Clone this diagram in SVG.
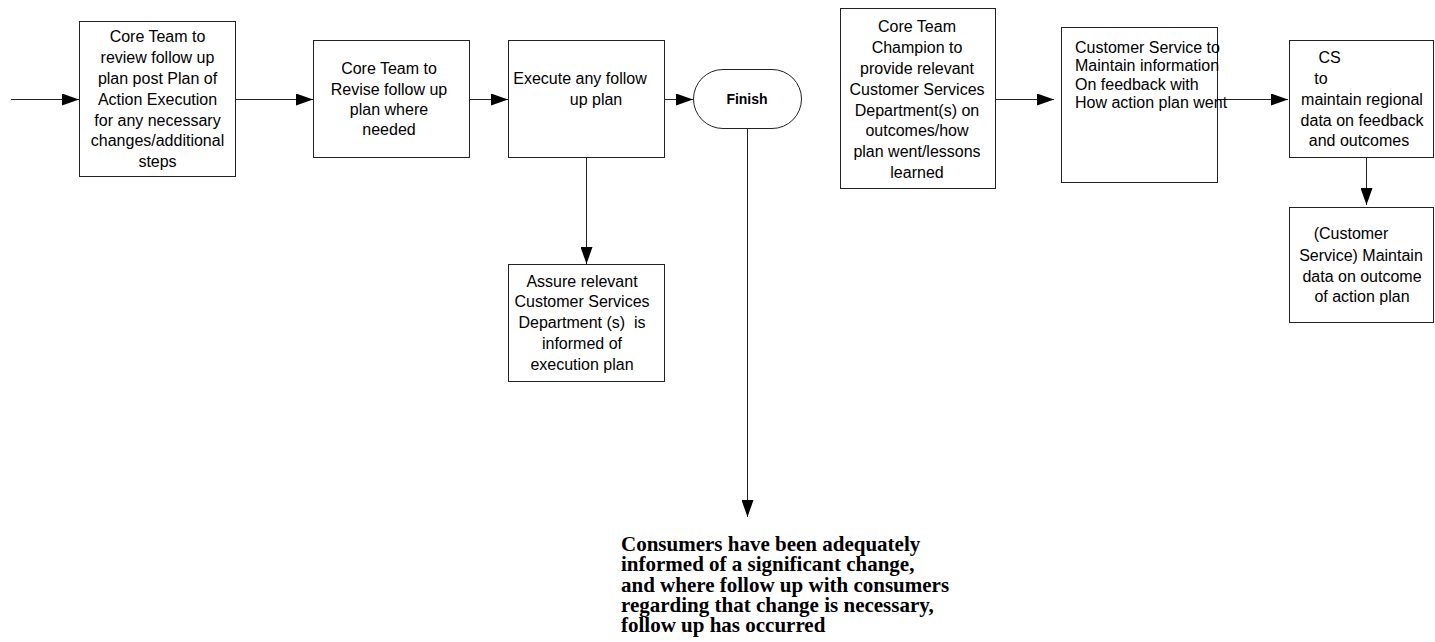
<svg xmlns="http://www.w3.org/2000/svg" width="1435" height="642" viewBox="0 0 1435 642">
<style>
.box{fill:#fff;stroke:#222;stroke-width:1}
.t{font-family:"Liberation Sans",Arial,sans-serif;font-size:16px;fill:#000}
.c{text-anchor:middle}
.b{font-weight:bold;font-size:14px}
.note{font-family:"Liberation Serif","Times New Roman",serif;font-size:21px;font-weight:bold;fill:#000}
.con{fill:none;stroke:#222;stroke-width:1;marker-end:url(#ah)}
</style>
<defs>
<marker id="ah" markerUnits="userSpaceOnUse" markerWidth="17" markerHeight="12" refX="17" refY="6" orient="auto">
<path d="M0,0 L17,6 L0,12 z" fill="#000"/>
</marker>
</defs>
<rect width="1435" height="642" fill="#fff"/>
<g id="connectors">
<path class="con" d="M11,99.5 H79"/>
<path class="con" d="M236,99.5 H313"/>
<path class="con" d="M470,99.5 H508"/>
<path class="con" d="M665,99.5 H693"/>
<path class="con" d="M586.5,157 V264"/>
<path class="con" d="M747.5,128 V517"/>
<path class="con" d="M996,99.5 H1054"/>
<path class="con" d="M1217,99.5 H1288"/>
<path class="con" d="M1366.5,157 V205"/>
</g>
<g id="n1">
<rect class="box" x="79.5" y="21.5" width="156" height="155"/>
<text class="t c" x="157.5" y="42">Core Team to</text>
<text class="t c" x="157.5" y="63">review follow up</text>
<text class="t c" x="157.5" y="84">plan post Plan of</text>
<text class="t c" x="157.5" y="104.5">Action Execution</text>
<text class="t c" x="157.5" y="125.5">for any necessary</text>
<text class="t c" x="157.5" y="146">changes/additional</text>
<text class="t c" x="157.5" y="167">steps</text>
</g>
<g id="n2">
<rect class="box" x="313.5" y="40.5" width="156" height="117"/>
<text class="t c" x="389" y="74">Core Team to</text>
<text class="t c" x="389" y="94.5">Revise follow up</text>
<text class="t c" x="389" y="115">plan where</text>
<text class="t c" x="389" y="135">needed</text>
</g>
<g id="n3">
<rect class="box" x="508.5" y="40.5" width="156" height="117"/>
<text class="t c" x="580" y="84">Execute any follow</text>
<text class="t c" x="596" y="104.5">up plan</text>
</g>
<g id="finish">
<rect class="box" x="693.5" y="69.5" width="108" height="59" rx="29.5" ry="29.5"/>
<text class="t c b" x="747" y="104">Finish</text>
</g>
<g id="n4">
<rect class="box" x="508.5" y="264.5" width="156" height="117"/>
<text class="t c" x="582" y="286.5">Assure relevant</text>
<text class="t c" x="582" y="307">Customer Services</text>
<text class="t c" x="582" y="328" xml:space="preserve">Department (s)  is</text>
<text class="t c" x="582" y="349">informed of</text>
<text class="t c" x="582" y="370">execution plan</text>
</g>
<g id="n5">
<rect class="box" x="840.5" y="8.5" width="155" height="180"/>
<text class="t c" x="917" y="32">Core Team</text>
<text class="t c" x="917" y="53">Champion to</text>
<text class="t c" x="917" y="74">provide relevant</text>
<text class="t c" x="917" y="95">Customer Services</text>
<text class="t c" x="917" y="115.5">Department(s) on</text>
<text class="t c" x="917" y="136">outcomes/how</text>
<text class="t c" x="917" y="157">plan went/lessons</text>
<text class="t c" x="917" y="177.5">learned</text>
</g>
<g id="n6">
<rect class="box" x="1061.5" y="27.5" width="156" height="155"/>
<text class="t" x="1075" y="53">Customer Service to</text>
<text class="t" x="1075" y="71">Maintain information</text>
<text class="t" x="1075" y="89.5">On feedback with</text>
<text class="t" x="1075" y="107.5">How action plan went</text>
</g>
<g id="n7">
<rect class="box" x="1289.5" y="40.5" width="144" height="117"/>
<text class="t c" x="1329.5" y="63">CS</text>
<text class="t c" x="1321" y="84">to</text>
<text class="t c" x="1362" y="104.5">maintain regional</text>
<text class="t c" x="1362" y="125.5">data on feedback</text>
<text class="t c" x="1359" y="146">and outcomes</text>
</g>
<g id="n8">
<rect class="box" x="1289.5" y="207.5" width="144" height="115"/>
<text class="t c" x="1351" y="239">(Customer</text>
<text class="t c" x="1361" y="260.5">Service) Maintain</text>
<text class="t c" x="1362" y="281.5">data on outcome</text>
<text class="t c" x="1362" y="302">of action plan</text>
</g>
<g id="outcome">
<text class="note" x="621" y="550.5">Consumers have been adequately</text>
<text class="note" x="621" y="571">informed of a significant change,</text>
<text class="note" x="621" y="591.5">and where follow up with consumers</text>
<text class="note" x="621" y="612">regarding that change is necessary,</text>
<text class="note" x="621" y="632">follow up has occurred</text>
</g>
</svg>
